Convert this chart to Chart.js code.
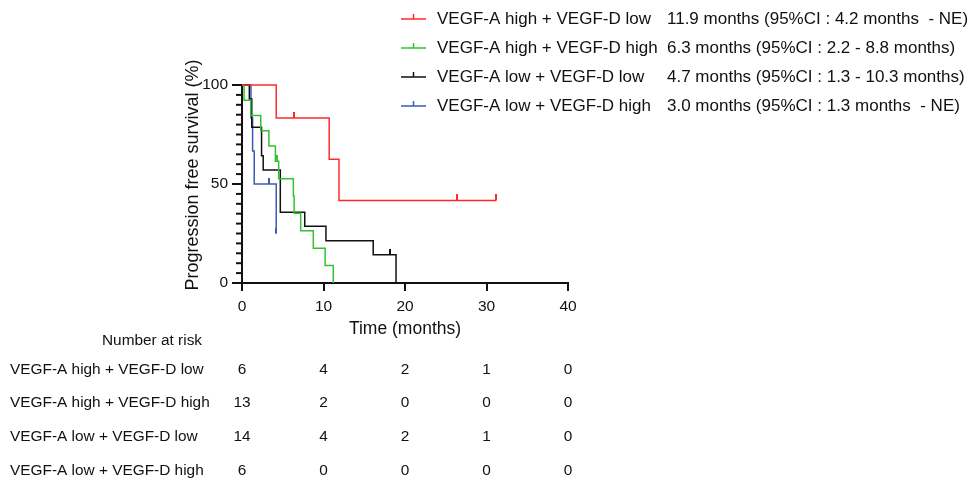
<!DOCTYPE html>
<html>
<head>
<meta charset="utf-8">
<script src="https://cdn.jsdelivr.net/npm/chart.js@4.4.1/dist/chart.umd.min.js"></script>
<style>
html, body { margin: 0; padding: 0; background: #fff; }
#wrap { width: 971px; height: 479px; }
</style>
</head>
<body>
<div id="wrap"><canvas id="km"></canvas></div>
<script>
// groups and medians as shown in the legend
const groupNames = ['VEGF-A high + VEGF-D low', 'VEGF-A high + VEGF-D high', 'VEGF-A low + VEGF-D low', 'VEGF-A low + VEGF-D high'];
const medianText = ['11.9 months (95%CI : 4.2 months  - NE)', '6.3 months (95%CI : 2.2 - 8.8 months)', '4.7 months (95%CI : 1.3 - 10.3 months)', '3.0 months (95%CI : 1.3 months  - NE)'];
const groupColors = ['#ff2a2a', '#33c233', '#111111', '#3b5cb5'];

// Kaplan-Meier steps (time in months, survival in %)
const redTimes = [0, 4.2, 10.7, 11.9, 31.2];
const redSurv = [100, 83.3, 62.5, 41.7, 41.7];
const redCensorTimes = [6.4, 26.4, 31.2];
const redCensorSurv = [83.3, 41.7, 41.7];

const greenTimes = [0, 0.25, 1.07, 2.3, 3.3, 4.1, 4.5, 6.3, 6.4, 7.2, 8.75, 10.2, 11.2];
const greenSurv = [100, 92.3, 84.6, 76.9, 69.2, 61.5, 52.7, 44.0, 35.2, 26.4, 17.6, 8.8, 0];
const greenCensorTimes = [4.3];
const greenCensorSurv = [61.5];

const blackTimes = [0, 0.9, 1.2, 2.4, 2.6, 4.7, 7.7, 10.3, 16.1, 18.9];
const blackSurv = [100, 92.9, 78.6, 64.3, 57.1, 35.7, 28.6, 21.4, 14.3, 0];
const blackCensorTimes = [18.2];
const blackCensorSurv = [14.3];

const blueTimes = [0, 1.1, 1.3, 1.5, 4.2];
const blueSurv = [100, 83.3, 66.7, 50, 25];
const blueCensorTimes = [3.3, 4.2];
const blueCensorSurv = [50, 25];

// number at risk table
const riskTimes = [0, 10, 20, 30, 40];
const riskRed = [6, 4, 2, 1, 0];
const riskGreen = [13, 2, 0, 0, 0];
const riskBlack = [14, 4, 2, 1, 0];
const riskBlue = [6, 0, 0, 0, 0];

const yMinorTicks = [5, 10, 15, 20, 25, 30, 35, 40, 45, 55, 60, 65, 70, 75, 80, 85, 90, 95];
const yTitle = 'Progression free survival (%)';

const FONT = '"Liberation Sans", Arial, sans-serif';
const INK = '#111';

function pts(xs, ys) {
    return xs.map((x, i) => ({ x: x, y: ys[i] }));
}

// small vertical tick above the line, used for censored patients
function tickImage(color) {
    const c = document.createElement('canvas');
    c.width = 2;
    c.height = 12;
    const g = c.getContext('2d');
    g.fillStyle = color;
    g.fillRect(0, 0, 2, 6);
    return c;
}

const series = [
    [redTimes, redSurv, redCensorTimes, redCensorSurv],
    [greenTimes, greenSurv, greenCensorTimes, greenCensorSurv],
    [blackTimes, blackSurv, blackCensorTimes, blackCensorSurv],
    [blueTimes, blueSurv, blueCensorTimes, blueCensorSurv]
];
const riskRows = [riskRed, riskGreen, riskBlack, riskBlue];

const datasets = [];
series.forEach((s, i) => {
    datasets.push({
        label: groupNames[i],
        data: pts(s[0], s[1]),
        stepped: 'before',
        borderColor: groupColors[i],
        borderWidth: 1.5,
        pointRadius: 0,
        fill: false,
        clip: false
    });
    datasets.push({
        type: 'scatter',
        label: groupNames[i] + ' censored',
        data: pts(s[2], s[3]),
        pointStyle: tickImage(groupColors[i]),
        pointRadius: 3,
        showLine: false,
        clip: false
    });
});

const extras = {
    id: 'extras',
    afterDraw(chart) {
        const ctx = chart.ctx;
        const xs = chart.scales.x;
        const ys = chart.scales.y;
        ctx.save();

        // minor y ticks
        ctx.strokeStyle = INK;
        ctx.lineWidth = 2;
        yMinorTicks.forEach(v => {
            const y = ys.getPixelForValue(v);
            ctx.beginPath();
            ctx.moveTo(chart.chartArea.left - 6, y);
            ctx.lineTo(chart.chartArea.left, y);
            ctx.stroke();
        });

        // y axis title, sits a little above the plot centre in the original
        ctx.save();
        ctx.translate(193, 175);
        ctx.rotate(-Math.PI / 2);
        ctx.fillStyle = INK;
        ctx.font = '18px ' + FONT;
        ctx.textAlign = 'center';
        ctx.textBaseline = 'middle';
        ctx.fillText(yTitle, 0, 0);
        ctx.restore();

        // legend
        ctx.textBaseline = 'middle';
        ctx.textAlign = 'left';
        ctx.font = '17px ' + FONT;
        groupNames.forEach((name, i) => {
            const y = 19 + i * 29;
            ctx.strokeStyle = groupColors[i];
            ctx.lineWidth = 1.5;
            ctx.beginPath();
            ctx.moveTo(401, y);
            ctx.lineTo(426, y);
            ctx.moveTo(413.5, y - 5);
            ctx.lineTo(413.5, y);
            ctx.stroke();
            ctx.fillStyle = INK;
            ctx.fillText(name, 437, y);
            ctx.fillText(medianText[i], 667, y);
        });

        // number at risk
        ctx.font = '15.4px ' + FONT;
        ctx.textAlign = 'center';
        ctx.fillText('Number at risk', 152, 341);
        groupNames.forEach((name, i) => {
            const y = 369.5 + i * 33.7;
            ctx.textAlign = 'left';
            ctx.fillText(name, 10, y);
            ctx.textAlign = 'center';
            riskRows[i].forEach((n, j) => {
                ctx.fillText(String(n), xs.getPixelForValue(riskTimes[j]), y);
            });
        });
        ctx.restore();
    }
};

new Chart(document.getElementById('km'), {
    type: 'line',
    data: { datasets: datasets },
    options: {
        responsive: true,
        maintainAspectRatio: false,
        animation: false,
        events: [],
        layout: { padding: { left: 182, top: 85, right: 403, bottom: 139 } },
        plugins: { legend: { display: false }, tooltip: { enabled: false } },
        scales: {
            x: {
                type: 'linear',
                min: 0,
                max: 40,
                afterFit: s => { s.height = 57; },
                ticks: { stepSize: 10, color: INK, font: { family: FONT, size: 15.5 }, padding: 6, maxRotation: 0 },
                grid: { drawOnChartArea: false, drawTicks: true, tickLength: 8, color: INK, lineWidth: 2 },
                border: { color: INK, width: 2 },
                title: { display: true, text: 'Time (months)', color: INK, font: { family: FONT, size: 17.5 }, padding: 0 }
            },
            y: {
                min: 0,
                max: 100,
                afterFit: s => { s.width = 60; },
                ticks: { stepSize: 50, color: INK, font: { family: FONT, size: 15.5 }, padding: 4 },
                grid: { drawOnChartArea: false, drawTicks: true, tickLength: 10, color: INK, lineWidth: 2 },
                border: { color: INK, width: 2 }
            }
        }
    },
    plugins: [extras]
});
</script>
</body>
</html>
